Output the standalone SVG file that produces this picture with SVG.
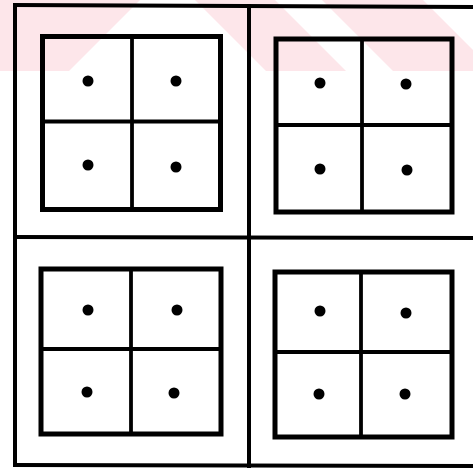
<svg xmlns="http://www.w3.org/2000/svg" width="473" height="470" viewBox="0 0 473 470">
<style>
.wm{fill:#fde6ea;stroke:none}
.frame{stroke:#000;stroke-width:4;fill:none;stroke-linecap:square}
.sq{stroke:#000;stroke-width:5;fill:none;stroke-linejoin:miter}
.div{stroke:#000;stroke-width:3.8;fill:none}
.dot{fill:#000}
</style>
<rect width="473" height="470" fill="#fff"/>
<g id="watermark">
<polygon class="wm" points="0,0 140,0 69,71 0,71"/>
<polygon class="wm" points="195,0 275,0 346,71 266,71"/>
<polygon class="wm" points="322,0 423,0 473,50 473,71 393,71"/>
</g>
<g id="frame">
<line class="frame" x1="15" y1="5" x2="15" y2="465"/>
<line class="frame" x1="15" y1="5" x2="473" y2="7"/>
<line class="frame" x1="15" y1="465" x2="473" y2="466"/>
<line class="frame" x1="249" y1="6" x2="249" y2="466"/>
<line class="frame" x1="15" y1="237" x2="473" y2="238"/>
</g>
<g id="cell-top-left">
<rect class="sq" x="42.5" y="36.5" width="178" height="173"/>
<line class="div" x1="132" y1="36.5" x2="132" y2="209.5"/>
<line class="div" x1="42.5" y1="121.5" x2="220.5" y2="121.5"/>
<circle class="dot" cx="88" cy="81" r="5.5"/>
<circle class="dot" cx="176" cy="81" r="5.5"/>
<circle class="dot" cx="88" cy="165" r="5.5"/>
<circle class="dot" cx="176" cy="167" r="5.5"/>
</g>
<g id="cell-top-right">
<rect class="sq" x="276" y="39" width="176" height="173"/>
<line class="div" x1="362" y1="39" x2="362" y2="212"/>
<line class="div" x1="276" y1="125" x2="452" y2="125"/>
<circle class="dot" cx="320" cy="83" r="5.5"/>
<circle class="dot" cx="406" cy="84" r="5.5"/>
<circle class="dot" cx="320" cy="169" r="5.5"/>
<circle class="dot" cx="407" cy="170" r="5.5"/>
</g>
<g id="cell-bottom-left">
<rect class="sq" x="41" y="269" width="180" height="165"/>
<line class="div" x1="131" y1="269" x2="131" y2="434"/>
<line class="div" x1="41" y1="349" x2="221" y2="349"/>
<circle class="dot" cx="88" cy="310" r="5.5"/>
<circle class="dot" cx="177" cy="310" r="5.5"/>
<circle class="dot" cx="87" cy="392" r="5.5"/>
<circle class="dot" cx="174" cy="393" r="5.5"/>
</g>
<g id="cell-bottom-right">
<rect class="sq" x="275" y="272" width="177" height="165"/>
<line class="div" x1="361" y1="272" x2="361" y2="437"/>
<line class="div" x1="275" y1="352" x2="452" y2="352"/>
<circle class="dot" cx="320" cy="311" r="5.5"/>
<circle class="dot" cx="406" cy="313" r="5.5"/>
<circle class="dot" cx="319" cy="394" r="5.5"/>
<circle class="dot" cx="405" cy="394" r="5.5"/>
</g>
</svg>
